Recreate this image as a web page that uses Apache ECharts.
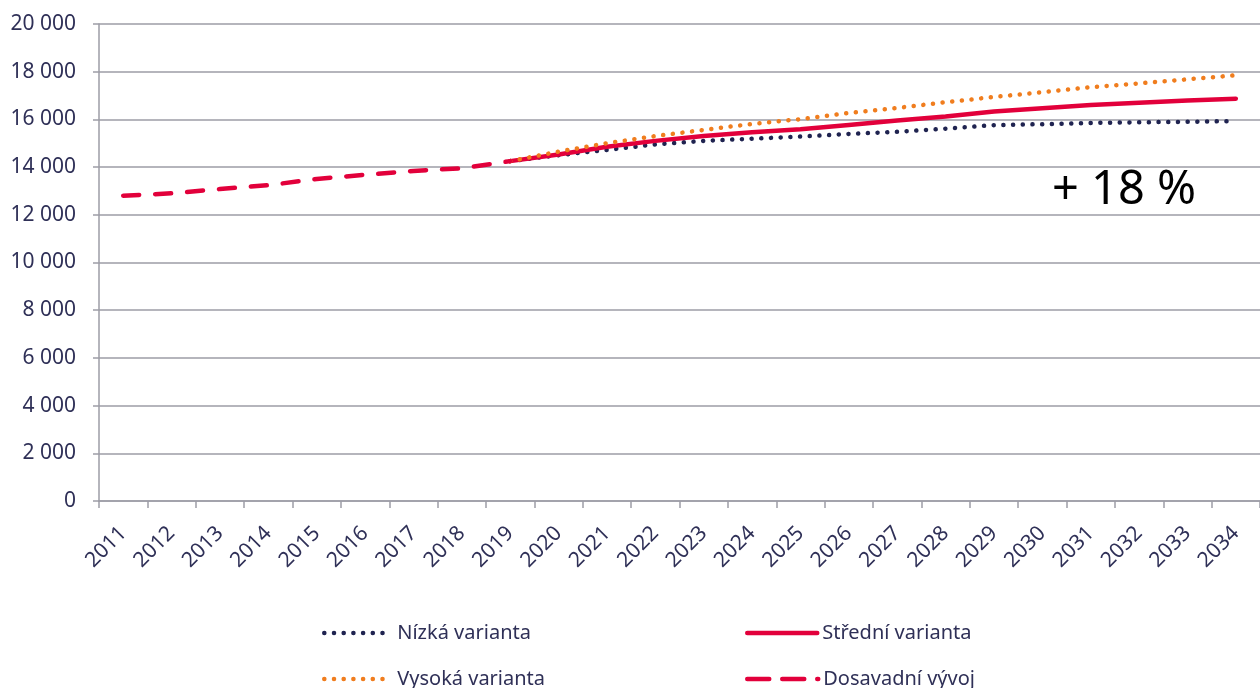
<!DOCTYPE html>
<html><head><meta charset="utf-8">
<script src="https://cdn.jsdelivr.net/npm/echarts@6/dist/echarts.min.js"></script>
<style>html,body{margin:0;padding:0;background:#fff}#c{width:1260px;height:688px}</style>
</head><body><div id="c"></div>
<script>
const years = ['2011','2012','2013','2014','2015','2016','2017','2018','2019','2020','2021','2022','2023','2024','2025','2026','2027','2028','2029','2030','2031','2032','2033','2034'];
const yTicks = [0,2000,4000,6000,8000,10000,12000,14000,16000,18000,20000];
const historical = [12800,12900,13080,13240,13500,13680,13840,13950,14250];
const projYears = ['2019','2020','2021','2022','2023','2024','2025','2026','2027','2028','2029','2030','2031','2032','2033','2034'];
const low    = [14250,14500,14720,14950,15100,15190,15280,15390,15480,15610,15760,15800,15850,15880,15900,15930];
const medium = [14250,14530,14850,15100,15300,15460,15590,15770,15950,16120,16330,16470,16600,16700,16790,16870];
const high   = [14250,14650,15000,15300,15560,15810,16010,16270,16480,16720,16940,17140,17350,17510,17680,17850];
const annotation = '+ 18 %';

function align(arr, startYear){
  const out = years.map(()=>null);
  const i0 = years.indexOf(startYear);
  arr.forEach((v,i)=>{ out[i0+i]=v; });
  return out;
}
const NAVY='#1f2350', RED='#e2003b', ORANGE='#f07d1e', GRID='#9d9da6', TXT='#2f3057';
const FONT='"Noto Sans", sans-serif';
const chart = echarts.init(document.getElementById('c'));
function lg(name,left,top,w,pad,ls){
  return {data:[name],left:left,top:top,itemWidth:w,itemHeight:12,
    itemStyle:{opacity:0},
    lineStyle:Object.assign({width:4.5,cap:'round'},ls||{}),
    textStyle:{fontFamily:FONT,fontSize:20,color:TXT,padding:[0,0,0,pad]}};
}
chart.setOption({
  animation:false,
  grid:{left:99,top:24,width:1168,height:477},
  xAxis:{type:'category',data:years,boundaryGap:true,
    axisLine:{lineStyle:{color:GRID,width:1.5}},
    axisTick:{show:true,length:7,lineStyle:{color:GRID,width:1.5}},
    axisLabel:{rotate:45,fontFamily:FONT,fontSize:21,color:TXT,margin:29}},
  yAxis:{type:'value',min:0,max:20000,interval:2000,
    axisLine:{show:true,lineStyle:{color:GRID,width:1.5}},
    axisTick:{show:true,length:6,lineStyle:{color:GRID,width:1.5}},
    splitLine:{lineStyle:{color:GRID,width:1.5}},
    axisLabel:{fontFamily:FONT,fontSize:21,color:TXT,margin:23,
      formatter:v=>String(v).replace(/\B(?=(\d{3})+(?!\d))/g,' ')}},
  legend:[
    lg('Nízká varianta',317,618,62,6,{type:[0.1,9.6]}),
    lg('Vysoká varianta',317,664,62,6,{type:[0.1,9.6]}),
    lg('Střední varianta',740,618,70,0),
    lg('Dosavadní vývoj',740,664,71,0,{type:[22,13]})
  ],
  graphic:[{type:'text',left:1052,top:167,style:{text:annotation,font:'47px '+FONT,fill:'#000'}}],
  series:[
    {name:'Nízká varianta',type:'line',data:align(low,'2019'),symbol:'none',
      lineStyle:{color:NAVY,width:4.5,type:[0.1,9.6],cap:'round'},itemStyle:{color:NAVY}},
    {name:'Střední varianta',type:'line',data:align(medium,'2019'),symbol:'none',
      lineStyle:{color:RED,width:4.5,cap:'round'},itemStyle:{color:RED}},
    {name:'Vysoká varianta',type:'line',data:align(high,'2019'),symbol:'none',
      lineStyle:{color:ORANGE,width:4.5,type:[0.1,9.6],cap:'round'},itemStyle:{color:ORANGE}},
    {name:'Dosavadní vývoj',type:'line',data:align(historical,'2011'),symbol:'none',
      lineStyle:{color:RED,width:4.5,type:[16,16],cap:'round'},itemStyle:{color:RED}}
  ]
});
</script></body></html>
